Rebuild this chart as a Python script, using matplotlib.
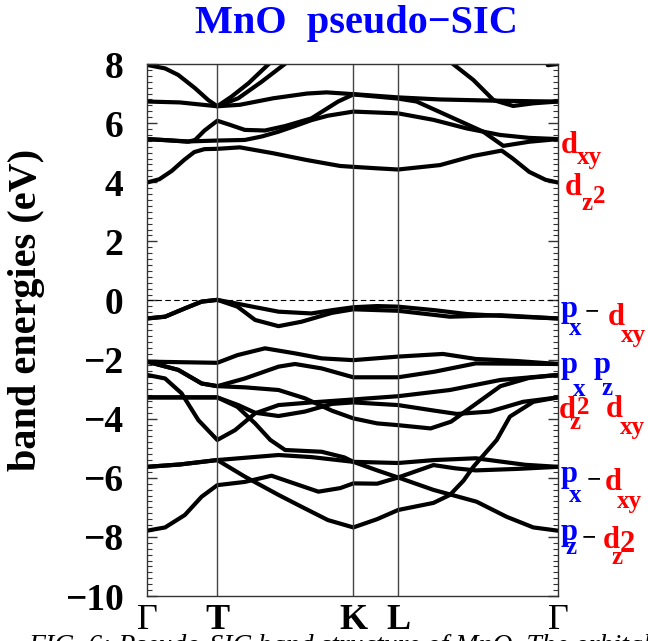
import matplotlib
matplotlib.use("Agg")
import matplotlib.pyplot as plt
from matplotlib.ticker import MultipleLocator

plt.rcParams['font.family'] = 'Liberation Serif'

# high-symmetry points (fraction of path length)
kpts = [0.0, 0.171, 0.502, 0.611, 1.0]
klabels = ['Γ', 'T', 'K', 'L', 'Γ']

# conduction bands
cb1_k = [0, 0.03, 0.06, 0.09, 0.115, 0.14, 0.171, 0.226, 0.307, 0.389, 0.47, 0.502, 0.56, 0.611, 0.713, 0.794, 0.863, 0.89, 0.93, 0.97, 1.0]
cb1_e = [3.99, 4.1, 4.38, 4.75, 5.02, 5.12, 5.13, 5.18, 4.98, 4.75, 4.55, 4.52, 4.47, 4.43, 4.58, 4.89, 5.07, 4.8, 4.35, 4.08, 3.99]
cb2_k = [0, 0.05, 0.10, 0.171, 0.238, 0.28, 0.32, 0.36, 0.40, 0.44, 0.502, 0.611, 0.697, 0.778, 0.859, 0.93, 1.0]
cb2_e = [5.46, 5.42, 5.38, 5.41, 5.43, 5.55, 5.71, 5.9, 6.1, 6.25, 6.39, 6.33, 6.11, 5.82, 5.6, 5.5, 5.46]
cb3_k = [0, 0.05, 0.10, 0.117, 0.14, 0.171, 0.20, 0.238, 0.287, 0.336, 0.40, 0.465, 0.502, 0.611, 0.656, 0.737, 0.818, 0.867, 0.93, 1.0]
cb3_e = [5.46, 5.42, 5.37, 5.43, 5.75, 6.08, 5.95, 5.77, 5.75, 5.9, 6.16, 6.73, 6.97, 6.83, 6.73, 6.22, 5.71, 5.23, 5.37, 5.46]
cb4_k = [0, 0.08, 0.171, 0.226, 0.307, 0.389, 0.437, 0.502, 0.611, 0.713, 0.843, 0.94, 1.0]
cb4_e = [6.73, 6.7, 6.57, 6.62, 6.84, 7.0, 7.04, 6.98, 6.87, 6.8, 6.76, 6.74, 6.73]
cb5_k = [0, 0.044, 0.076, 0.117, 0.149, 0.171, 0.206, 0.247, 0.30]
cb5_e = [7.97, 7.85, 7.63, 7.18, 6.78, 6.57, 6.9, 7.35, 8.05]
cb6_k = [0.171, 0.222, 0.279, 0.34]
cb6_e = [6.57, 6.84, 7.4, 8.05]
cb7_k = [0.74, 0.794, 0.843, 0.891, 0.94, 1.0]
cb7_e = [8.05, 7.46, 6.78, 6.58, 6.67, 6.73]
cb8_k = [0.975, 1.0]
cb8_e = [7.96, 8.0]

# valence bands
vb1_k = [0, 0.044, 0.092, 0.133, 0.171, 0.238, 0.32, 0.40, 0.45, 0.502, 0.56, 0.611, 0.70, 0.778, 0.90, 1.0]
vb1_e = [-0.61, -0.55, -0.27, -0.04, 0.02, -0.16, -0.38, -0.44, -0.33, -0.23, -0.19, -0.21, -0.33, -0.46, -0.55, -0.61]
vb2_k = [0, 0.044, 0.092, 0.133, 0.171, 0.22, 0.263, 0.32, 0.376, 0.45, 0.502, 0.611, 0.737, 0.86, 1.0]
vb2_e = [-0.61, -0.55, -0.27, -0.04, 0.02, -0.21, -0.66, -0.87, -0.72, -0.42, -0.30, -0.35, -0.55, -0.5, -0.61]
vb3_k = [0, 0.171, 0.22, 0.287, 0.36, 0.425, 0.502, 0.611, 0.72, 0.80, 0.90, 1.0]
vb3_e = [-2.07, -2.11, -1.85, -1.62, -1.79, -1.96, -2.02, -1.9, -1.81, -1.98, -2.05, -2.15]
vb4_k = [0, 0.076, 0.133, 0.171, 0.238, 0.32, 0.36, 0.425, 0.502, 0.611, 0.70, 0.80, 1.0]
vb4_e = [-2.07, -2.35, -2.81, -2.9, -2.64, -2.24, -2.15, -2.3, -2.6, -2.6, -2.41, -2.13, -2.15]
vb5_k = [0, 0.076, 0.133, 0.171, 0.238, 0.32, 0.384, 0.45, 0.502, 0.56, 0.611, 0.69, 0.74, 0.80, 0.86, 0.93, 1.0]
vb5_e = [-2.07, -2.35, -2.81, -2.9, -2.94, -3.03, -3.31, -3.73, -3.99, -4.16, -4.22, -4.33, -4.1, -3.5, -2.9, -2.62, -2.52]
vb6_k = [0, 0.044, 0.084, 0.125, 0.171, 0.214, 0.263, 0.32, 0.40, 0.502, 0.611, 0.737, 0.86, 1.0]
vb6_e = [-2.52, -2.64, -3.14, -4.05, -4.72, -4.39, -3.82, -3.54, -3.45, -3.35, -3.24, -3.03, -2.69, -2.52]
vb7_k = [0, 0.171, 0.222, 0.263, 0.32, 0.384, 0.45, 0.502, 0.611, 0.70, 0.754, 0.834, 0.915, 1.0]
vb7_e = [-3.28, -3.28, -3.54, -3.8, -3.91, -3.76, -3.5, -3.45, -3.54, -3.73, -3.84, -3.76, -3.43, -3.28]
vb8_k = [0, 0.171, 0.22, 0.263, 0.30, 0.336, 0.425, 0.48, 0.502, 0.56, 0.611, 0.697, 0.802, 0.875, 0.94, 1.0]
vb8_e = [-3.28, -3.28, -3.6, -4.16, -4.72, -5.06, -5.12, -5.31, -5.46, -5.75, -5.99, -6.41, -6.81, -7.32, -7.68, -7.79]
vb9_k = [0, 0.08, 0.171, 0.32, 0.40, 0.502, 0.611, 0.70, 0.80, 0.86, 0.92, 1.0]
vb9_e = [-5.63, -5.55, -5.40, -5.23, -5.3, -5.46, -5.5, -5.4, -5.34, -5.45, -5.56, -5.63]
vb10_k = [0, 0.08, 0.171, 0.238, 0.32, 0.376, 0.44, 0.502, 0.56, 0.611, 0.697, 0.737, 0.77, 0.794, 0.851, 0.883, 0.94, 1.0]
vb10_e = [-5.63, -5.55, -5.40, -5.96, -6.58, -6.98, -7.43, -7.68, -7.4, -7.09, -6.85, -6.58, -6.1, -5.63, -4.72, -3.93, -3.43, -3.28]
vb11_k = [0, 0.044, 0.092, 0.133, 0.171, 0.238, 0.303, 0.36, 0.417, 0.47, 0.502, 0.56, 0.611, 0.697, 0.75, 0.80, 0.90, 1.0]
vb11_e = [-7.79, -7.68, -7.26, -6.64, -6.25, -6.14, -5.93, -6.2, -6.47, -6.35, -6.19, -6.2, -5.99, -5.57, -5.68, -5.75, -5.7, -5.63]

bands = [(cb1_k, cb1_e), (cb2_k, cb2_e), (cb3_k, cb3_e), (cb4_k, cb4_e),
         (cb5_k, cb5_e), (cb6_k, cb6_e), (cb7_k, cb7_e), (cb8_k, cb8_e),
         (vb1_k, vb1_e), (vb2_k, vb2_e), (vb3_k, vb3_e), (vb4_k, vb4_e),
         (vb5_k, vb5_e), (vb6_k, vb6_e), (vb7_k, vb7_e), (vb8_k, vb8_e),
         (vb9_k, vb9_e), (vb10_k, vb10_e), (vb11_k, vb11_e)]

W, H = 648, 641
fig = plt.figure(figsize=(W / 100, H / 100), dpi=100)
ax = fig.add_axes([147/W, 1 - 596/H, 411/W, 532/H])

for k, e in bands:
    ax.plot(k, e, color='black', lw=3.0, solid_capstyle='round', solid_joinstyle='round')

for kp in kpts[1:-1]:
    ax.axvline(kp, color='#444444', lw=1.0)
ax.axhline(0, color='black', lw=0.8, dashes=(5, 3))

ax.set_xlim(0, 1)
ax.set_ylim(-10, 8)
ax.set_yticks(range(-10, 9, 2))
ax.yaxis.set_minor_locator(MultipleLocator(0.2))
ax.tick_params(axis='y', which='both', direction='in', left=True, right=True, pad=17,
               labelsize=27, color='#333333')
ax.tick_params(axis='y', which='major', length=7, width=1)
ax.tick_params(axis='y', which='minor', length=3.5, width=0.8)
for lab in ax.get_yticklabels():
    lab.set_fontweight('bold')

ax.set_xticks(kpts)
ax.set_xticklabels(klabels)
ax.tick_params(axis='x', length=0, pad=6, labelsize=26)
for lab in ax.get_xticklabels():
    if lab.get_text() != 'Γ':
        lab.set_fontweight('bold')

for sp in ax.spines.values():
    sp.set_color('#333333')
    sp.set_linewidth(1.0)

fig.text(0.55, 1 - 33/H, 'MnO  pseudo\u2212SIC', color='blue', fontsize=29,
         fontweight='bold', ha='center', va='baseline')
fig.text(27/W, 1 - 310/H, 'band energies (eV)', fontsize=29, fontweight='bold',
         rotation=90, ha='center', va='center')

# orbital character labels on the right, built from pieces (x, baseline in pixels)
red = '#ff0000'
blue = '#0000ff'
def piece(px, py, s, c, size):
    fig.text(px / W, 1 - py / H, s, color=c, fontsize=size, fontweight='bold',
             ha='left', va='baseline')

BIG, SUB = 22, 18
# d_xy
piece(561, 153, 'd', red, BIG); piece(577, 164, 'xy', red, SUB)
# d_z2
piece(565, 195, 'd', red, BIG); piece(581, 210, 'z', red, SUB); piece(593, 203, '2', red, SUB)
# p_x - d_xy
piece(561, 317, 'p', blue, BIG); piece(569, 335, 'x', blue, SUB)
piece(585, 318, '\u2212', 'black', SUB)
piece(608, 325, 'd', red, BIG); piece(621, 342, 'xy', red, SUB)
# p_x p_z
piece(561, 373, 'p', blue, BIG); piece(573, 396, 'x', blue, SUB)
piece(594, 373, 'p', blue, BIG); piece(602, 395, 'z', blue, SUB)
# d_z2 d_xy
piece(559, 418, 'd', red, BIG); piece(570, 429, 'z', red, SUB); piece(577, 414, '2', red, SUB)
piece(606, 417, 'd', red, BIG); piece(620, 434, 'xy', red, SUB)
# p_x - d_xy
piece(561, 482, 'p', blue, BIG); piece(569, 502, 'x', blue, SUB)
piece(587, 486, '\u2212', 'black', SUB)
piece(605, 490, 'd', red, BIG); piece(617, 508, 'xy', red, SUB)
# p_z - d_z2
piece(561, 540, 'p', blue, BIG); piece(566, 554, 'z', blue, SUB)
piece(582, 544, '\u2212', 'black', SUB)
piece(603, 548, 'd', red, BIG); piece(611, 564, 'z', red, SUB); piece(620, 552, '2', red, BIG)

fig.text(28/W, 1 - 653/H, 'FIG. 6: Pseudo-SIC band structure of MnO. The orbital',
         fontsize=20, style='italic', ha='left', va='baseline')

fig.savefig('out.png', dpi=100)
